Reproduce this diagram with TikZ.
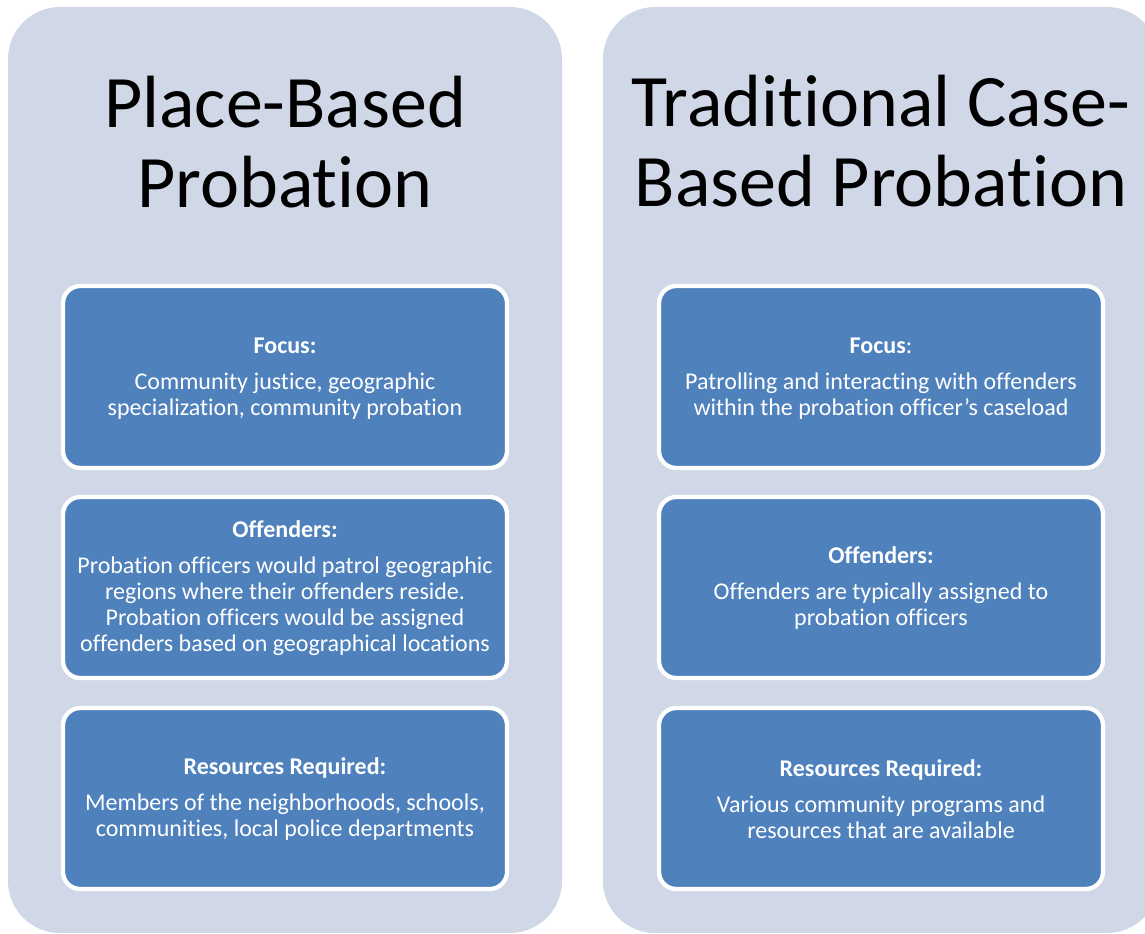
\documentclass[tikz,border=0pt]{standalone}
\usepackage{fontspec}
\setmainfont{Carlito}[Ligatures={NoCommon,NoContextual}]
\definecolor{panelfill}{HTML}{D0D8E8}
\definecolor{boxfill}{HTML}{4F81BD}
% keep t+i and f+i/f+f/f+l as separate letters
\newXeTeXintercharclass\clsT
\newXeTeXintercharclass\clsI
\newXeTeXintercharclass\clsF
\newXeTeXintercharclass\clsL
\XeTeXcharclass`t=\clsT
\XeTeXcharclass`i=\clsI
\XeTeXcharclass`f=\clsF
\XeTeXcharclass`l=\clsL
\XeTeXinterchartoks\clsT\clsI={\kern0pt }
\XeTeXinterchartoks\clsF\clsI={\kern0pt }
\XeTeXinterchartoks\clsF\clsF={\kern0pt }
\XeTeXinterchartoks\clsF\clsL={\kern0pt }
\begin{document}
\XeTeXinterchartokenstate=1
\begin{tikzpicture}[x=0.75pt,y=-0.75pt,
  panel/.style={fill=panelfill,rounded corners=39pt},
  card/.style={fill=boxfill,draw=white,line width=3.2pt,rounded corners=13pt},
  title/.style={align=center,font=\fontsize{55.5}{60}\selectfont,text=black,inner sep=0pt},
  cardtext/.style={align=center,font=\fontsize{18}{19.5}\selectfont,text=white,inner sep=0pt}]
\useasboundingbox (0,0) rectangle (1145,934);
\clip (0,0) rectangle (1145,934);

% two columns
\fill[panel] (8,7) rectangle (562,933);
\fill[panel] (603,7) rectangle (1159,933);

% column headings (anchored at the baseline of the second line)
\node[title,anchor=base] (ltitle) at (285,208) {Place-Based\\Probation};
\node[title,anchor=base] (rtitle) at (881,207) {Traditional Case-\\Based Probation};

% left cards
\draw[card] (63,286) rectangle (507,468);
\draw[card] (63,497) rectangle (507,678);
\draw[card] (63,708) rectangle (507,889);
% right cards
\draw[card] (659,286) rectangle (1103,468);
\draw[card] (659,497) rectangle (1103,678);
\draw[card] (659,708) rectangle (1103,889);

\node[cardtext] (lfocus) at (285,379) {\textbf{Focus:}\\[7.5pt]Community justice, geographic\\specialization, community probation};
\node[cardtext] (loff) at (285,588) {\textbf{Offenders:}\\[7.5pt]Probation officers would patrol geographic\\regions where their offenders reside.\\Probation officers would be assigned\\offenders based on geographical locations};
\node[cardtext] (lres) at (285,799) {\textbf{Resources Required:}\\[7.5pt]Members of the neighborhoods, schools,\\communities, local police departments};

\node[cardtext] (rfocus) at (881,379) {\textbf{Focus}:\\[7.5pt]Patrolling and interacting with offenders\\within the probation officer’s caseload};
\node[cardtext] (roff) at (881,588) {\textbf{Offenders:}\\[7.5pt]Offenders are typically assigned to\\probation officers};
\node[cardtext] (rres) at (881,799) {\textbf{Resources Required:}\\[7.5pt]Various community programs and\\resources that are available};
\end{tikzpicture}
\end{document}
